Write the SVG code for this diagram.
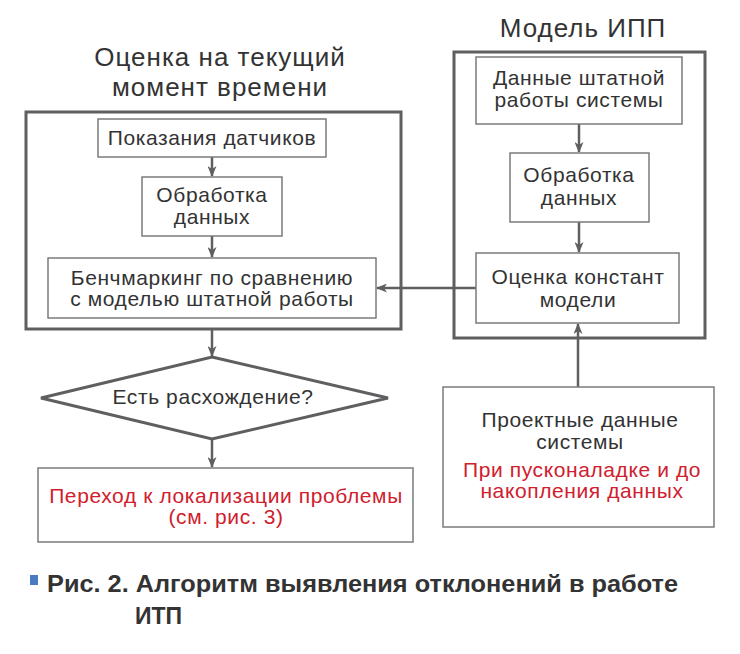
<svg xmlns="http://www.w3.org/2000/svg" width="740" height="654" viewBox="0 0 740 654">
<defs>
<style>
.outer{fill:none;stroke:#5e5f61;stroke-width:3}
.box{fill:#fff;stroke:#7a7b7d;stroke-width:1.5}
.t{font-family:"Liberation Sans",Arial,sans-serif;font-size:21px;letter-spacing:0.6px;fill:#333;text-anchor:middle}
.r{fill:#d0202e}
.h{font-family:"Liberation Sans",Arial,sans-serif;font-size:26px;letter-spacing:1px;fill:#333;text-anchor:middle}
.cap{font-family:"Liberation Sans",Arial,sans-serif;font-size:23px;font-weight:bold;fill:#333}
.ln{fill:none;stroke:#5e5f61;stroke-width:2.5}
</style>
<marker id="ah" markerWidth="11" markerHeight="9" refX="10" refY="4.5" orient="auto" markerUnits="userSpaceOnUse">
<path d="M0,0 L11,4.5 L0,9 L3,4.5 Z" fill="#5e5f61"/>
</marker>
</defs>
<rect width="740" height="654" fill="#fff"/>

<text class="h" x="220" y="66">Оценка на текущий</text>
<text class="h" x="220" y="96">момент времени</text>
<text class="h" x="583" y="37">Модель ИПП</text>

<g id="left-frame"><rect class="outer" x="26" y="112" width="375" height="217"/></g>
<g id="right-frame"><rect class="outer" x="454" y="52" width="251" height="286"/></g>

<g id="connectors">
<line class="ln" x1="212" y1="157" x2="212" y2="176" marker-end="url(#ah)"/>
<line class="ln" x1="212" y1="236" x2="212" y2="257" marker-end="url(#ah)"/>
<line class="ln" x1="212" y1="329" x2="212" y2="356" marker-end="url(#ah)"/>
<line class="ln" x1="212" y1="440" x2="212" y2="467" marker-end="url(#ah)"/>
<line class="ln" x1="579" y1="124" x2="579" y2="152" marker-end="url(#ah)"/>
<line class="ln" x1="579" y1="222" x2="579" y2="252" marker-end="url(#ah)"/>
<line class="ln" x1="476" y1="288" x2="377" y2="288" marker-end="url(#ah)"/>
<line class="ln" x1="578" y1="387" x2="578" y2="324" marker-end="url(#ah)"/>
</g>

<g id="n-sensors"><rect class="box" x="98" y="119" width="228" height="38"/>
<text class="t" x="212" y="145">Показания датчиков</text></g>

<g id="n-proc-left"><rect class="box" x="142" y="177" width="140" height="59"/>
<text class="t" x="212" y="202">Обработка</text><text class="t" x="212" y="224">данных</text></g>

<g id="n-bench"><rect class="box" x="48" y="258" width="328" height="60"/>
<text class="t" x="212" y="285">Бенчмаркинг по сравнению</text><text class="t" x="212" y="306">с моделью штатной работы</text></g>

<g id="n-normal"><rect class="box" x="476" y="57" width="206" height="67"/>
<text class="t" x="579" y="85">Данные штатной</text><text class="t" x="579" y="107">работы системы</text></g>

<g id="n-proc-right"><rect class="box" x="510" y="153" width="139" height="69"/>
<text class="t" x="579" y="182">Обработка</text><text class="t" x="579" y="205">данных</text></g>

<g id="n-const"><rect class="box" x="476" y="253" width="203" height="70"/>
<text class="t" x="578" y="284">Оценка констант</text><text class="t" x="578" y="307">модели</text></g>

<g id="n-diamond"><polygon points="212,357 388,398 212,439 41,398" fill="#fff" stroke="#5e5f61" stroke-width="3"/>
<text class="t" x="213" y="404">Есть расхождение?</text></g>

<g id="n-local"><rect class="box" x="38" y="468" width="375" height="74"/>
<text class="t r" x="226" y="503">Переход к локализации проблемы</text><text class="t r" x="226" y="524">(см. рис. 3)</text></g>

<g id="n-design"><rect class="box" x="443" y="387" width="271" height="140"/>
<text class="t" x="580" y="427">Проектные данные</text><text class="t" x="580" y="449">системы</text>
<text class="t r" x="582" y="477">При пусконаладке и до</text><text class="t r" x="582" y="498">накопления данных</text></g>

<g id="caption">
<rect x="30" y="575" width="8" height="10" fill="#4a7ac0"/>
<text class="cap" x="47" y="592" textLength="631" lengthAdjust="spacingAndGlyphs">Рис. 2. Алгоритм выявления отклонений в работе</text>
<text class="cap" x="135" y="624">ИТП</text>
</g>
</svg>
